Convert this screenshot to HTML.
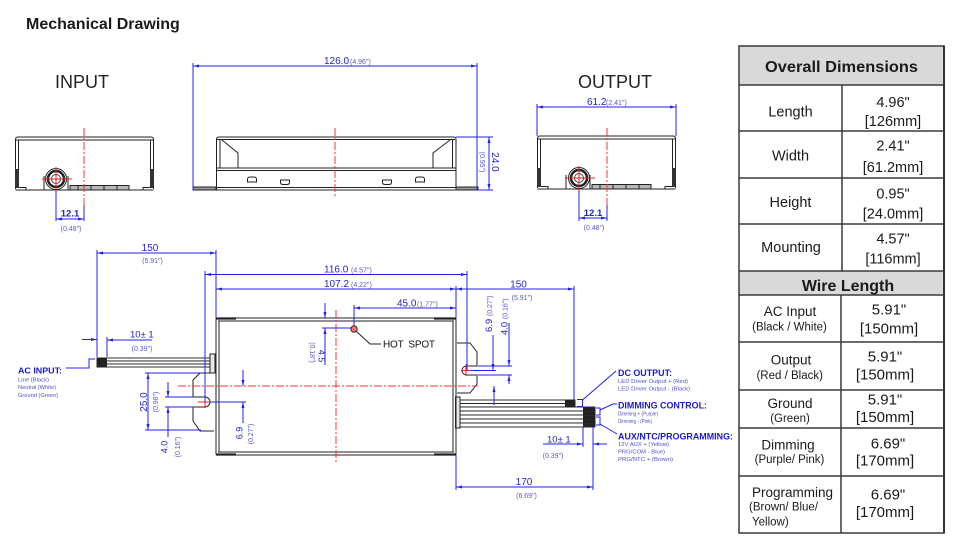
<!DOCTYPE html>
<html><head><meta charset="utf-8"><style>
html,body{margin:0;padding:0;background:#fff;}
svg{display:block;}
text{font-family:"Liberation Sans",Arial,sans-serif;}
</style></head><body>
<svg width="960" height="550" viewBox="0 0 960 550" xmlns="http://www.w3.org/2000/svg">
<defs>
<marker id="ar" viewBox="0 0 8 4" refX="8" refY="2" markerWidth="7" markerHeight="3" markerUnits="userSpaceOnUse" orient="auto-start-reverse"><path d="M0,0 L8,2 L0,4 z" fill="#2020f0"/></marker>
</defs>
<rect width="960" height="550" fill="#fff"/>

<text x="26" y="29" font-size="16" font-weight="bold" fill="#1a1a1a">Mechanical Drawing</text>
<text x="55" y="88" font-size="18" fill="#222">INPUT</text>
<text x="578" y="88" font-size="18" fill="#222">OUTPUT</text>

<!-- INPUT end view -->
<g>
 <g fill="none" stroke="#222" stroke-width="1">
  <path d="M15.5,189 L15.5,139.5 Q15.5,137 18,137 L151,137 Q153.5,137 153.5,139.5 L153.5,189"/>
  <line x1="16" y1="140" x2="153" y2="140"/>
  <line x1="18.5" y1="140" x2="18.5" y2="169"/>
  <line x1="150.5" y1="140" x2="150.5" y2="169"/>
  <line x1="15.5" y1="190" x2="153.5" y2="190"/>
  <path d="M19,187.5 L26,187.5 L26,190"/>
  <path d="M150,187.5 L143,187.5 L143,190"/>
  <path d="M44,190 L44,176 M68,190 L68,176"/>
  <rect x="70" y="185.5" width="59" height="4.5" fill="#b8b8b8"/>
  <path d="M78,185.5v4.5 M91,185.5v4.5 M104,185.5v4.5 M117,185.5v4.5"/>
 </g>
 <rect x="15" y="169" width="4" height="19" fill="#333"/>
 <rect x="150" y="169" width="4" height="19" fill="#333"/>
 <circle cx="56" cy="179" r="10.5" fill="#fff" stroke="#222"/>
 <circle cx="56" cy="179" r="8" fill="none" stroke="#222" stroke-width="2.5"/>
 <circle cx="56" cy="179" r="4.5" fill="none" stroke="#444"/>
 <line x1="42" y1="179" x2="72" y2="179" stroke="#f02020"/>
 <line x1="56" y1="167" x2="56" y2="191" stroke="#f02020"/>
 <line x1="84" y1="128" x2="84" y2="219" stroke="#ff3030" stroke-dasharray="8 2 2 2"/>
 <g stroke="#2020f0" fill="none">
  <line x1="56" y1="191" x2="56" y2="221"/>
  <line x1="84" y1="206" x2="84" y2="221"/>
  <line x1="56" y1="219" x2="84" y2="219" marker-start="url(#ar)" marker-end="url(#ar)"/>
 </g>
 <text x="70" y="216.5" font-size="9.5" font-weight="bold" fill="#2424c8" text-anchor="middle">12.1</text>
 <text x="71" y="231" font-size="7" fill="#5a5ad0" text-anchor="middle">(0.48")</text>
</g>

<!-- OUTPUT end view -->
<g transform="translate(522,-1)">
 <g fill="none" stroke="#222" stroke-width="1">
  <path d="M15.5,189 L15.5,139.5 Q15.5,137 18,137 L151,137 Q153.5,137 153.5,139.5 L153.5,189"/>
  <line x1="16" y1="140" x2="153" y2="140"/>
  <line x1="18.5" y1="140" x2="18.5" y2="169"/>
  <line x1="150.5" y1="140" x2="150.5" y2="169"/>
  <line x1="15.5" y1="190" x2="153.5" y2="190"/>
  <path d="M19,187.5 L26,187.5 L26,190"/>
  <path d="M150,187.5 L143,187.5 L143,190"/>
  <path d="M44,190 L44,176 M68,190 L68,176"/>
  <rect x="70" y="185.5" width="59" height="4.5" fill="#b8b8b8"/>
  <path d="M78,185.5v4.5 M91,185.5v4.5 M104,185.5v4.5 M117,185.5v4.5"/>
 </g>
 <rect x="15" y="169" width="4" height="19" fill="#333"/>
 <rect x="150" y="169" width="4" height="19" fill="#333"/>
 <circle cx="57" cy="179" r="10.5" fill="#fff" stroke="#222"/>
 <circle cx="57" cy="179" r="8" fill="none" stroke="#222" stroke-width="2.5"/>
 <circle cx="57" cy="179" r="4.5" fill="none" stroke="#444"/>
 <line x1="43" y1="179" x2="73" y2="179" stroke="#f02020"/>
 <line x1="57" y1="167" x2="57" y2="191" stroke="#f02020"/>
 <line x1="85" y1="129" x2="85" y2="220" stroke="#ff3030" stroke-dasharray="8 2 2 2"/>
</g>
<g stroke="#2020f0" fill="none">
 <line x1="579" y1="190" x2="579" y2="221"/>
 <line x1="607" y1="205" x2="607" y2="221"/>
 <line x1="579" y1="218" x2="607" y2="218" marker-start="url(#ar)" marker-end="url(#ar)"/>
 <line x1="537" y1="104" x2="537" y2="136"/>
 <line x1="676" y1="104" x2="676" y2="136"/>
 <line x1="537" y1="107" x2="676" y2="107" marker-start="url(#ar)" marker-end="url(#ar)"/>
</g>
<text x="593" y="216" font-size="9.5" font-weight="bold" fill="#2424c8" text-anchor="middle">12.1</text>
<text x="594" y="230" font-size="7" fill="#5a5ad0" text-anchor="middle">(0.48")</text>
<text x="587" y="105" font-size="10" fill="#2424c8">61.2</text>
<text x="606" y="105" font-size="7" fill="#5a5ad0">(2.41")</text>

<!-- SIDE VIEW (top middle) -->
<g fill="none" stroke="#222" stroke-width="1">
 <path d="M216.5,190 L216.5,139.5 Q216.5,137 219,137 L453.5,137 Q456,137 456,139.5 L456,190 Z"/>
 <line x1="217" y1="139.5" x2="455" y2="139.5"/>
 <line x1="216.5" y1="168" x2="456" y2="168"/>
 <line x1="216.5" y1="170.5" x2="456" y2="170.5"/>
 <line x1="216.5" y1="187.5" x2="456" y2="187.5"/>
 <line x1="220" y1="139.5" x2="220" y2="168"/>
 <line x1="452.5" y1="139.5" x2="452.5" y2="168"/>
 <path d="M222,140 L238,153 L238,168"/>
 <path d="M450,140 L433,153 L433,168"/>
 <path d="M247.5,182 L247.5,179.5 Q247.5,177 250,177 L254,177 Q256.5,177 256.5,179.5 L256.5,182 Z"/>
 <path d="M415.5,182 L415.5,179.5 Q415.5,177 418,177 L422,177 Q424.5,177 424.5,179.5 L424.5,182 Z"/>
 <path d="M280.5,180 L289.5,180 L289.5,182 Q289.5,184.5 287,184.5 L283,184.5 Q280.5,184.5 280.5,182 Z"/>
 <path d="M382.5,180 L391.5,180 L391.5,182 Q391.5,184.5 389,184.5 L385,184.5 Q382.5,184.5 382.5,182 Z"/>
 <rect x="193" y="187" width="23" height="3" fill="#999"/>
 <rect x="456" y="187" width="22" height="3" fill="#999"/>
</g>
<line x1="335" y1="128" x2="335" y2="198" stroke="#ff3030" stroke-dasharray="8 2 2 2"/>
<g stroke="#2020f0" fill="none">
 <line x1="193" y1="63" x2="193" y2="190"/>
 <line x1="477" y1="63" x2="477" y2="190"/>
 <line x1="193" y1="66" x2="477" y2="66" marker-start="url(#ar)" marker-end="url(#ar)"/>
 <line x1="456" y1="137" x2="493" y2="137"/>
 <line x1="478" y1="190" x2="493" y2="190"/>
 <line x1="489" y1="137" x2="489" y2="190" marker-start="url(#ar)" marker-end="url(#ar)"/>
</g>
<text x="324" y="64" font-size="10" fill="#2424c8">126.0</text>
<text x="350" y="64" font-size="7" fill="#5a5ad0">(4.96")</text>
<text transform="translate(492,162) rotate(90)" font-size="10" fill="#2424c8" text-anchor="middle">24.0</text>
<text transform="translate(480,162) rotate(90)" font-size="7" fill="#5a5ad0" text-anchor="middle">(0.95")</text>

<!-- BOTTOM TOP VIEW -->
<!-- wires left -->
<g stroke="#1a1a1a" stroke-width="0.9" fill="#fff">
 <rect x="97" y="358" width="113" height="3"/>
 <rect x="97" y="361" width="113" height="3"/>
 <rect x="97" y="364" width="113" height="3"/>
</g>
<rect x="97" y="357.5" width="10" height="10" fill="#222"/>
<rect x="210" y="354" width="5" height="19" fill="#e8e8e8" stroke="#222"/>
<!-- wires right -->
<g stroke="#1a1a1a" stroke-width="0.9" fill="#fff">
 <rect x="460" y="400" width="115" height="3.5"/>
 <rect x="460" y="403.5" width="115" height="3.5"/>
 <rect x="460" y="407" width="135" height="4"/>
 <rect x="460" y="411" width="135" height="4"/>
 <rect x="460" y="415" width="135" height="4"/>
 <rect x="460" y="419" width="135" height="4"/>
 <rect x="460" y="423" width="135" height="4"/>
</g>
<rect x="565" y="399.5" width="10" height="7.5" fill="#222"/>
<g fill="#222">
 <rect x="583" y="407.5" width="12" height="3"/>
 <rect x="583" y="411.5" width="12" height="3"/>
 <rect x="583" y="415.5" width="12" height="3"/>
 <rect x="583" y="419.5" width="12" height="3"/>
 <rect x="583" y="423.5" width="12" height="3"/>
</g>
<rect x="455.5" y="397" width="4.5" height="31" fill="#e8e8e8" stroke="#222"/>
<!-- body -->
<g fill="none" stroke="#222" stroke-width="1">
 <rect x="216" y="318" width="240" height="137" rx="1.5"/>
 <line x1="218" y1="321" x2="454" y2="321"/>
 <line x1="218" y1="452" x2="454" y2="452"/>
 <line x1="219" y1="321" x2="219" y2="452"/>
 <line x1="453" y1="321" x2="453" y2="452"/>
 <path d="M214,373 L200,373 L193,380 L193,397 L205,397 A5,5 0 0 1 205,407 L193,407 L193,421 L200,431 L214,431"/>
 <path d="M457,343 L470,343 L477,352 L477,366 L466.5,366 A4.5,4.5 0 0 0 466.5,375 L477,375 L477,384 L470,393 L457,393"/>
 <path d="M356,331 L370,344 L381,344"/>
</g>
<g stroke="#222" stroke-width="2.2">
 <line x1="216" y1="318.5" x2="236" y2="318.5"/>
 <line x1="434" y1="318.5" x2="456" y2="318.5"/>
 <line x1="216" y1="454.5" x2="236" y2="454.5"/>
 <line x1="434" y1="454.5" x2="456" y2="454.5"/>
</g>
<circle cx="354" cy="329" r="3.2" fill="#ff6a6a" stroke="#333"/>
<text x="383" y="347.5" font-size="10" fill="#111" style="white-space:pre" textLength="52" lengthAdjust="spacing">HOT  SPOT</text>
<!-- red centerlines -->
<line x1="178" y1="386" x2="478" y2="386" stroke="#ff3030" stroke-dasharray="8 2 2 2"/>
<line x1="336" y1="310" x2="336" y2="463" stroke="#ff3030" stroke-dasharray="8 2 2 2"/>
<g stroke="#f02020">
 <line x1="198" y1="402" x2="211" y2="402"/>
 <line x1="205" y1="396" x2="205" y2="408"/>
 <line x1="461" y1="370.5" x2="473" y2="370.5"/>
 <line x1="466" y1="364" x2="466" y2="376"/>
</g>

<!-- blue dimensions bottom -->
<g stroke="#2020f0" fill="none" stroke-width="1">
 <line x1="97" y1="250" x2="97" y2="357"/>
 <line x1="216" y1="250" x2="216" y2="318"/>
 <line x1="97" y1="253" x2="216" y2="253" marker-start="url(#ar)" marker-end="url(#ar)"/>
 <line x1="205" y1="271" x2="205" y2="402"/>
 <line x1="467" y1="271" x2="467" y2="370"/>
 <line x1="205" y1="274.5" x2="467" y2="274.5" marker-start="url(#ar)" marker-end="url(#ar)"/>
 <line x1="456" y1="286" x2="456" y2="318"/>
 <line x1="216" y1="289" x2="456" y2="289" marker-start="url(#ar)" marker-end="url(#ar)"/>
 <line x1="456" y1="289" x2="574" y2="289" marker-start="url(#ar)" marker-end="url(#ar)"/>
 <line x1="574" y1="286" x2="574" y2="400"/>
 <line x1="354" y1="305" x2="354" y2="326"/>
 <line x1="354" y1="308" x2="456" y2="308" marker-start="url(#ar)" marker-end="url(#ar)"/>
 <line x1="325" y1="303" x2="325" y2="318" marker-end="url(#ar)"/>
 <line x1="325" y1="365" x2="325" y2="328" marker-end="url(#ar)"/>
 <line x1="322" y1="328" x2="352" y2="328"/>
 <line x1="145" y1="373" x2="201" y2="373"/>
 <line x1="145" y1="430" x2="201" y2="430"/>
 <line x1="148" y1="373" x2="148" y2="430" marker-start="url(#ar)" marker-end="url(#ar)"/>
 <line x1="168" y1="382" x2="168" y2="397" marker-end="url(#ar)"/>
 <line x1="168" y1="437" x2="168" y2="407" marker-end="url(#ar)"/>
 <line x1="165" y1="397" x2="194" y2="397"/>
 <line x1="165" y1="407" x2="194" y2="407"/>
 <line x1="243" y1="370" x2="243" y2="386" marker-end="url(#ar)"/>
 <line x1="243" y1="423" x2="243" y2="402" marker-end="url(#ar)"/>
 <line x1="210" y1="402" x2="246" y2="402"/>
 <line x1="82" y1="339.5" x2="97" y2="339.5" marker-end="url(#ar)"/>
 <line x1="152" y1="340" x2="107" y2="340" marker-end="url(#ar)"/>
 <line x1="107" y1="337" x2="107" y2="357"/>
 <path d="M66,368 L89,368 L89,359 L95,359"/>
 <line x1="493" y1="335" x2="493" y2="370" marker-end="url(#ar)"/>
 <line x1="494" y1="405" x2="494" y2="386" marker-end="url(#ar)"/>
 <line x1="470" y1="370.5" x2="496" y2="370.5"/>
 <line x1="509" y1="323" x2="509" y2="366" marker-end="url(#ar)"/>
 <line x1="509" y1="384" x2="509" y2="375" marker-end="url(#ar)"/>
 <line x1="478" y1="366" x2="512" y2="366"/>
 <line x1="478" y1="375" x2="512" y2="375"/>
 <line x1="456" y1="455" x2="456" y2="490"/>
 <line x1="593" y1="427" x2="593" y2="490"/>
 <line x1="456" y1="487" x2="593" y2="487" marker-start="url(#ar)" marker-end="url(#ar)"/>
 <line x1="543" y1="444" x2="583" y2="444" marker-end="url(#ar)"/>
 <line x1="607" y1="444" x2="593" y2="444" marker-end="url(#ar)"/>
 <line x1="583" y1="427" x2="583" y2="447"/>
 <path d="M577,399.5 L582.5,399.5 L582.5,406.5 L577,406.5"/>
 <line x1="582.5" y1="400" x2="616" y2="371"/>
 <path d="M596,408 L600,408 L600,415 L596,415"/>
 <path d="M600,410 L613,404 L617,404"/>
 <path d="M596,417 L600,417 L600,425 L596,425"/>
 <line x1="600" y1="424" x2="617" y2="434"/>
</g>

<!-- dimension texts bottom -->
<g fill="#2424c8" font-size="10">
 <text x="150" y="251" text-anchor="middle">150</text>
 <text x="324" y="272.5">116.0</text>
 <text x="324" y="287">107.2</text>
 <text x="397" y="306.5">45.0</text>
 <text x="518.5" y="287.5" text-anchor="middle">150</text>
 <text x="524" y="485" text-anchor="middle">170</text>
 <text x="130" y="337.5" font-size="9.5">10± 1</text>
 <text x="547" y="442.5" font-size="9.5">10± 1</text>
 <text transform="translate(318.5,356) rotate(90)" font-size="9" text-anchor="middle">4.5</text>
 <text transform="translate(147,402) rotate(-90)" text-anchor="middle">25.0</text>
 <text transform="translate(167.5,447) rotate(-90)" font-size="9" text-anchor="middle">4.0</text>
 <text transform="translate(242.5,433) rotate(-90)" font-size="9" text-anchor="middle">6.9</text>
 <text transform="translate(492,332) rotate(-90)" font-size="9.5">6.9 <tspan font-size="7" fill="#5a5ad0">(0.27")</tspan></text>
 <text transform="translate(507.5,335) rotate(-90)" font-size="9.5">4.0 <tspan font-size="7" fill="#5a5ad0">(0.16")</tspan></text>
</g>
<g fill="#5a5ad0" font-size="7">
 <text x="152.5" y="263" text-anchor="middle">(5.91")</text>
 <text x="351" y="272.5">(4.57")</text>
 <text x="351" y="287">(4.22")</text>
 <text x="417" y="306.5">(1.77")</text>
 <text x="522" y="300" text-anchor="middle">(5.91")</text>
 <text x="526.5" y="498" text-anchor="middle">(6.69")</text>
 <text x="142" y="351" text-anchor="middle">(0.39")</text>
 <text x="553" y="458" text-anchor="middle">(0.39")</text>
 <text transform="translate(310,352.5) rotate(90)" text-anchor="middle">(0.18")</text>
 <text transform="translate(158,402) rotate(-90)" text-anchor="middle">(0.98")</text>
 <text transform="translate(180,447) rotate(-90)" text-anchor="middle">(0.16")</text>
 <text transform="translate(253,434) rotate(-90)" text-anchor="middle">(0.27")</text>
</g>

<!-- labels -->
<g fill="#1a1ad0" font-weight="bold">
 <text x="18" y="373.5" font-size="8.5" textLength="44" lengthAdjust="spacingAndGlyphs">AC INPUT:</text>
 <text x="618" y="376" font-size="9" textLength="54" lengthAdjust="spacingAndGlyphs">DC OUTPUT:</text>
 <text x="618" y="408.5" font-size="9" textLength="89" lengthAdjust="spacingAndGlyphs">DIMMING CONTROL:</text>
 <text x="618" y="439.5" font-size="9" textLength="115" lengthAdjust="spacingAndGlyphs">AUX/NTC/PROGRAMMING:</text>
</g>
<g fill="#4f4fcc" font-size="5.5">
 <text x="18" y="381.5" textLength="31" lengthAdjust="spacingAndGlyphs">Line (Black)</text>
 <text x="18" y="389" textLength="38" lengthAdjust="spacingAndGlyphs">Neutral (White)</text>
 <text x="18" y="397" textLength="40" lengthAdjust="spacingAndGlyphs">Ground (Green)</text>
 <text x="618" y="383" textLength="70" lengthAdjust="spacingAndGlyphs">LED Driver Output + (Red)</text>
 <text x="618" y="390.5" textLength="72" lengthAdjust="spacingAndGlyphs">LED Driver Output - (Black)</text>
 <text x="618" y="415.5" textLength="40" lengthAdjust="spacingAndGlyphs">Dimming + (Purple)</text>
 <text x="618" y="423" textLength="34" lengthAdjust="spacingAndGlyphs">Dimming - (Pink)</text>
 <text x="618" y="446" textLength="51" lengthAdjust="spacingAndGlyphs">12V AUX + (Yellow)</text>
 <text x="618" y="453.5" textLength="47" lengthAdjust="spacingAndGlyphs">PRG/COM - Blue)</text>
 <text x="618" y="461" textLength="55" lengthAdjust="spacingAndGlyphs">PRG/NTC + (Brown)</text>
</g>

<!-- TABLE -->
<rect x="739" y="46" width="205" height="39" fill="#d9d9d9"/>
<rect x="739" y="271" width="205" height="24" fill="#d9d9d9"/>
<g stroke="#3a3a3a" stroke-width="1.5" fill="none">
 <rect x="739" y="46" width="205" height="487"/>
 <line x1="739" y1="85" x2="944" y2="85"/>
 <line x1="739" y1="131" x2="944" y2="131"/>
 <line x1="739" y1="178" x2="944" y2="178"/>
 <line x1="739" y1="224" x2="944" y2="224"/>
 <line x1="739" y1="271" x2="944" y2="271"/>
 <line x1="739" y1="295" x2="944" y2="295"/>
 <line x1="739" y1="342" x2="944" y2="342"/>
 <line x1="739" y1="390" x2="944" y2="390"/>
 <line x1="739" y1="428" x2="944" y2="428"/>
 <line x1="739" y1="476" x2="944" y2="476"/>
 <line x1="842" y1="85" x2="842" y2="271"/>
 <line x1="841" y1="295" x2="841" y2="533"/>
</g>
<line x1="944" y1="46" x2="944" y2="533" stroke="#333" stroke-width="2"/>
<g fill="#1a1a1a">
 <text x="841.5" y="72" font-size="16" font-weight="bold" text-anchor="middle" textLength="153" lengthAdjust="spacingAndGlyphs">Overall Dimensions</text>
 <text x="848" y="291" font-size="16" font-weight="bold" text-anchor="middle">Wire Length</text>
 <g font-size="14.5" text-anchor="middle">
  <text x="790.5" y="116.5">Length</text>
  <text x="790.5" y="160.4">Width</text>
  <text x="790.5" y="207">Height</text>
  <text x="791" y="252">Mounting</text>
  <text x="893" y="107">4.96"</text>
  <text x="893" y="126">[126mm]</text>
  <text x="893" y="150.4">2.41"</text>
  <text x="893" y="172">[61.2mm]</text>
  <text x="893" y="198.7">0.95"</text>
  <text x="893" y="218.7">[24.0mm]</text>
  <text x="893" y="243.7">4.57"</text>
  <text x="893" y="263.7">[116mm]</text>
 </g>
 <g font-size="15" text-anchor="middle">
  <text x="889" y="314.7">5.91"</text>
  <text x="889" y="333.7">[150mm]</text>
  <text x="885" y="361.4">5.91"</text>
  <text x="885" y="379.4">[150mm]</text>
  <text x="885" y="404.7">5.91"</text>
  <text x="885" y="422">[150mm]</text>
  <text x="888" y="448.7">6.69"</text>
  <text x="885" y="465.4">[170mm]</text>
  <text x="888" y="499.4">6.69"</text>
  <text x="885" y="517">[170mm]</text>
 </g>
 <g font-size="13.5" text-anchor="middle">
  <text x="790" y="316">AC Input</text>
  <text x="791" y="364.7">Output</text>
  <text x="790" y="408">Ground</text>
  <text x="788" y="449.4">Dimming</text>
  <text x="792.5" y="497">Programming</text>
 </g>
 <g font-size="11.5" text-anchor="middle">
  <text x="789.5" y="330.5">(Black / White)</text>
  <text x="789.7" y="379">(Red / Black)</text>
  <text x="790" y="422">(Green)</text>
  <text x="789.5" y="463">(Purple/ Pink)</text>
 </g>
 <text x="749" y="510.5" font-size="11.5">(Brown/ Blue/</text>
 <text x="752" y="525.5" font-size="11.5">Yellow)</text>
</g>
</svg>
</body></html>
